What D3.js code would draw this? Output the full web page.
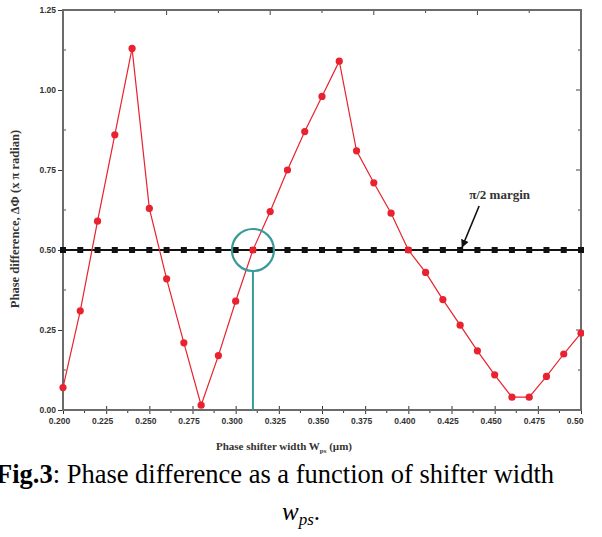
<!DOCTYPE html>
<html>

<head>
    <meta charset="utf-8" />
    <title>phase difference</title>
    <script src="https://cdn.jsdelivr.net/npm/d3@7/dist/d3.min.js"></script>
</head>

<body>
    <style>
        html,
        body {
            margin: 0;
            padding: 0;
            background: #fff;
        }

        .tick-label {
            font-family: "Liberation Sans", Arial, sans-serif;
            font-weight: bold;
            font-size: 8.5px;
            fill: #333;
        }

        .axis-title {
            font-family: "Liberation Serif", "Times New Roman", serif;
            font-weight: bold;
            fill: #333;
        }

        .caption {
            font-family: "Liberation Serif", "Times New Roman", serif;
            fill: #000;
        }
    </style>
    <div id="container"></div>
    <script>
        // shifter width (um) and phase difference (x pi rad)
        const widths = [0.20, 0.21, 0.22, 0.23, 0.24, 0.25, 0.26, 0.27, 0.28, 0.29, 0.30,
            0.31, 0.32, 0.33, 0.34, 0.35, 0.36, 0.37, 0.38, 0.39, 0.40,
            0.41, 0.42, 0.43, 0.44, 0.45, 0.46, 0.47, 0.48, 0.49, 0.50];
        const phaseDiff = [0.07, 0.31, 0.59, 0.86, 1.13, 0.63, 0.41, 0.21, 0.015, 0.17, 0.34,
            0.50, 0.62, 0.75, 0.87, 0.98, 1.09, 0.81, 0.71, 0.615, 0.50,
            0.43, 0.345, 0.265, 0.185, 0.11, 0.04, 0.04, 0.105, 0.175, 0.24];
        const marginLine = [0.5, 0.5, 0.5, 0.5, 0.5, 0.5, 0.5, 0.5, 0.5, 0.5, 0.5,
            0.5, 0.5, 0.5, 0.5, 0.5, 0.5, 0.5, 0.5, 0.5, 0.5,
            0.5, 0.5, 0.5, 0.5, 0.5, 0.5, 0.5, 0.5, 0.5, 0.5];
        const xTicks = [0.200, 0.225, 0.250, 0.275, 0.300, 0.325, 0.350, 0.375, 0.400, 0.425, 0.450, 0.475, 0.500];
        const yTicks = [0.00, 0.25, 0.50, 0.75, 1.00, 1.25];
        const marked = 0.31; // circled crossing point
        const arrowAt = 0.43;

        const W = 602, H = 537;
        const margin = { top: 10, right: 21, bottom: 127, left: 63 };
        const pw = W - margin.left - margin.right;
        const ph = H - margin.top - margin.bottom;

        const svg = d3.select("#container").append("svg")
            .attr("width", W)
            .attr("height", H);

        // the figure was cropped on its right side in the paper
        svg.append("clipPath").attr("id", "crop")
            .append("rect").attr("x", 0).attr("y", 0).attr("width", 584).attr("height", 458);

        const fig = svg.append("g").attr("clip-path", "url(#crop)");
        const g = fig.append("g")
            .attr("transform", `translate(${margin.left},${margin.top})`);

        const x = d3.scaleLinear().domain([0.2, 0.5]).range([0, pw]);
        const y = d3.scaleLinear().domain([0, 1.25]).range([ph, 0]);

        const frame = "#6b6b6b";
        const red = "#e8222e";
        const teal = "#3a9a98";

        // bottom axis: major ticks crossing the line, minor ticks outside
        const bottom = g.append("g").attr("transform", `translate(0,${ph})`)
            .call(d3.axisBottom(x).tickValues(xTicks).tickSize(4).tickFormat(d3.format(".3f")));
        bottom.selectAll(".tick line").attr("y1", -4).attr("stroke", "#333");
        bottom.selectAll(".tick text").attr("class", "tick-label").attr("dx", -4).attr("y", 8);
        bottom.append("g").selectAll("line")
            .data(xTicks.slice(1).map(function(d) { return d - 0.0125; }))
            .enter().append("line")
            .attr("x1", x).attr("x2", x).attr("y1", 0).attr("y2", 3)
            .attr("stroke", "#333");

        // left axis
        const left = g.append("g")
            .call(d3.axisLeft(y).tickValues(yTicks).tickSize(5).tickFormat(d3.format(".2f")));
        left.selectAll(".tick line").attr("stroke", "#333");
        left.selectAll(".tick text").attr("class", "tick-label").attr("x", -7);
        left.append("g").selectAll("line")
            .data(yTicks.slice(1).map(function(d) { return d - 0.125; }))
            .enter().append("line")
            .attr("y1", y).attr("y2", y).attr("x1", 0).attr("x2", 3)
            .attr("stroke", "#555");

        // top axis (Origin leftover ticks, 0.03 step)
        const topTicks = [0.20, 0.23, 0.26, 0.29, 0.32, 0.35, 0.38, 0.41, 0.44, 0.47, 0.50];
        g.append("g").selectAll("line")
            .data(topTicks)
            .enter().append("line")
            .attr("x1", x).attr("x2", x).attr("y1", 0)
            .attr("y2", function(d, i) { return i % 2 ? 3 : 5; })
            .attr("stroke", "#444");

        // right axis ticks
        const rightTicks = [0.125, 0.25, 0.375, 0.5, 0.625, 0.75, 0.875, 1.0, 1.125];
        g.append("g").selectAll("line")
            .data(rightTicks)
            .enter().append("line")
            .attr("y1", y).attr("y2", y).attr("x1", pw)
            .attr("x2", function(d, i) { return i % 2 ? pw - 5 : pw - 3; })
            .attr("stroke", "#444");

        g.selectAll(".domain").remove();
        g.append("rect")
            .attr("width", pw).attr("height", ph)
            .attr("fill", "none")
            .attr("stroke", frame)
            .attr("stroke-width", 2);

        // pi/2 margin line
        const marginData = widths.map(function(w, i) { return [w, marginLine[i]]; });
        g.append("path")
            .datum(marginData)
            .attr("fill", "none")
            .attr("stroke", "#111")
            .attr("stroke-width", 2)
            .attr("d", d3.line().x(function(d) { return x(d[0]); }).y(function(d) { return y(d[1]); }));
        g.append("g").selectAll("rect")
            .data(marginData)
            .enter().append("rect")
            .attr("x", function(d) { return x(d[0]) - 3; })
            .attr("y", function(d) { return y(d[1]) - 3; })
            .attr("width", 6).attr("height", 6)
            .attr("fill", "#111");

        // phase difference curve
        const phaseData = widths.map(function(w, i) { return [w, phaseDiff[i]]; });
        g.append("path")
            .datum(phaseData)
            .attr("fill", "none")
            .attr("stroke", red)
            .attr("stroke-width", 1.2)
            .attr("d", d3.line().x(function(d) { return x(d[0]); }).y(function(d) { return y(d[1]); }));
        g.append("g").selectAll("circle")
            .data(phaseData)
            .enter().append("circle")
            .attr("cx", function(d) { return x(d[0]); })
            .attr("cy", function(d) { return y(d[1]); })
            .attr("r", 3.6)
            .attr("fill", red);

        // marker circle + drop line
        const cr = 21;
        g.append("circle")
            .attr("cx", x(marked)).attr("cy", y(0.5)).attr("r", cr)
            .attr("fill", "none").attr("stroke", teal).attr("stroke-width", 2.2);
        g.append("line")
            .attr("x1", x(marked)).attr("x2", x(marked))
            .attr("y1", y(0.5) + cr).attr("y2", ph)
            .attr("stroke", teal).attr("stroke-width", 2);

        // annotation
        svg.append("defs").append("marker")
            .attr("id", "head")
            .attr("viewBox", "0 0 10 10")
            .attr("refX", 9).attr("refY", 5)
            .attr("markerWidth", 5).attr("markerHeight", 5)
            .attr("orient", "auto")
            .append("path").attr("d", "M0,0L10,5L0,10z").attr("fill", "#111");
        g.append("line")
            .attr("x1", x(arrowAt) + 19).attr("y1", y(0.5) - 44)
            .attr("x2", x(arrowAt) + 2).attr("y2", y(0.5) - 3)
            .attr("stroke", "#111").attr("stroke-width", 1.6)
            .attr("marker-end", "url(#head)");
        g.append("text")
            .attr("class", "axis-title")
            .style("font-size", "13px")
            .attr("x", x(arrowAt) + 9).attr("y", y(0.5) - 51)
            .text("π/2 margin");

        // axis titles
        g.append("text")
            .attr("class", "axis-title")
            .style("font-size", "12.5px")
            .attr("transform", `translate(-44,${ph / 2 + 9}) rotate(-90)`)
            .attr("text-anchor", "middle")
            .text("Phase difference, ΔΦ (x π radian)");

        const xt = fig.append("text")
            .attr("class", "axis-title")
            .style("font-size", "11px")
            .attr("x", margin.left + pw / 2 - 38).attr("y", 450)
            .attr("text-anchor", "middle");
        xt.append("tspan").text("Phase shifter width W");
        xt.append("tspan").attr("dy", 3).style("font-size", "7px").text("ps");
        xt.append("tspan").attr("dy", -3).text(" (µm)");

        // caption
        const cap = svg.append("text")
            .attr("class", "caption")
            .style("font-size", "26.5px")
            .attr("x", -4).attr("y", 483);
        cap.append("tspan").attr("font-weight", "bold").text("Fig.3");
        cap.append("tspan").text(": Phase difference as a function of shifter width");

        const cap2 = svg.append("text")
            .attr("class", "caption")
            .style("font-size", "25px")
            .attr("x", 301).attr("y", 520)
            .attr("text-anchor", "middle")
            .attr("font-style", "italic");
        cap2.append("tspan").text("w");
        cap2.append("tspan").attr("dy", 5).style("font-size", "17px").text("ps");
        cap2.append("tspan").attr("dy", -5).attr("font-style", "normal").text(".");
    </script>
</body>

</html>
